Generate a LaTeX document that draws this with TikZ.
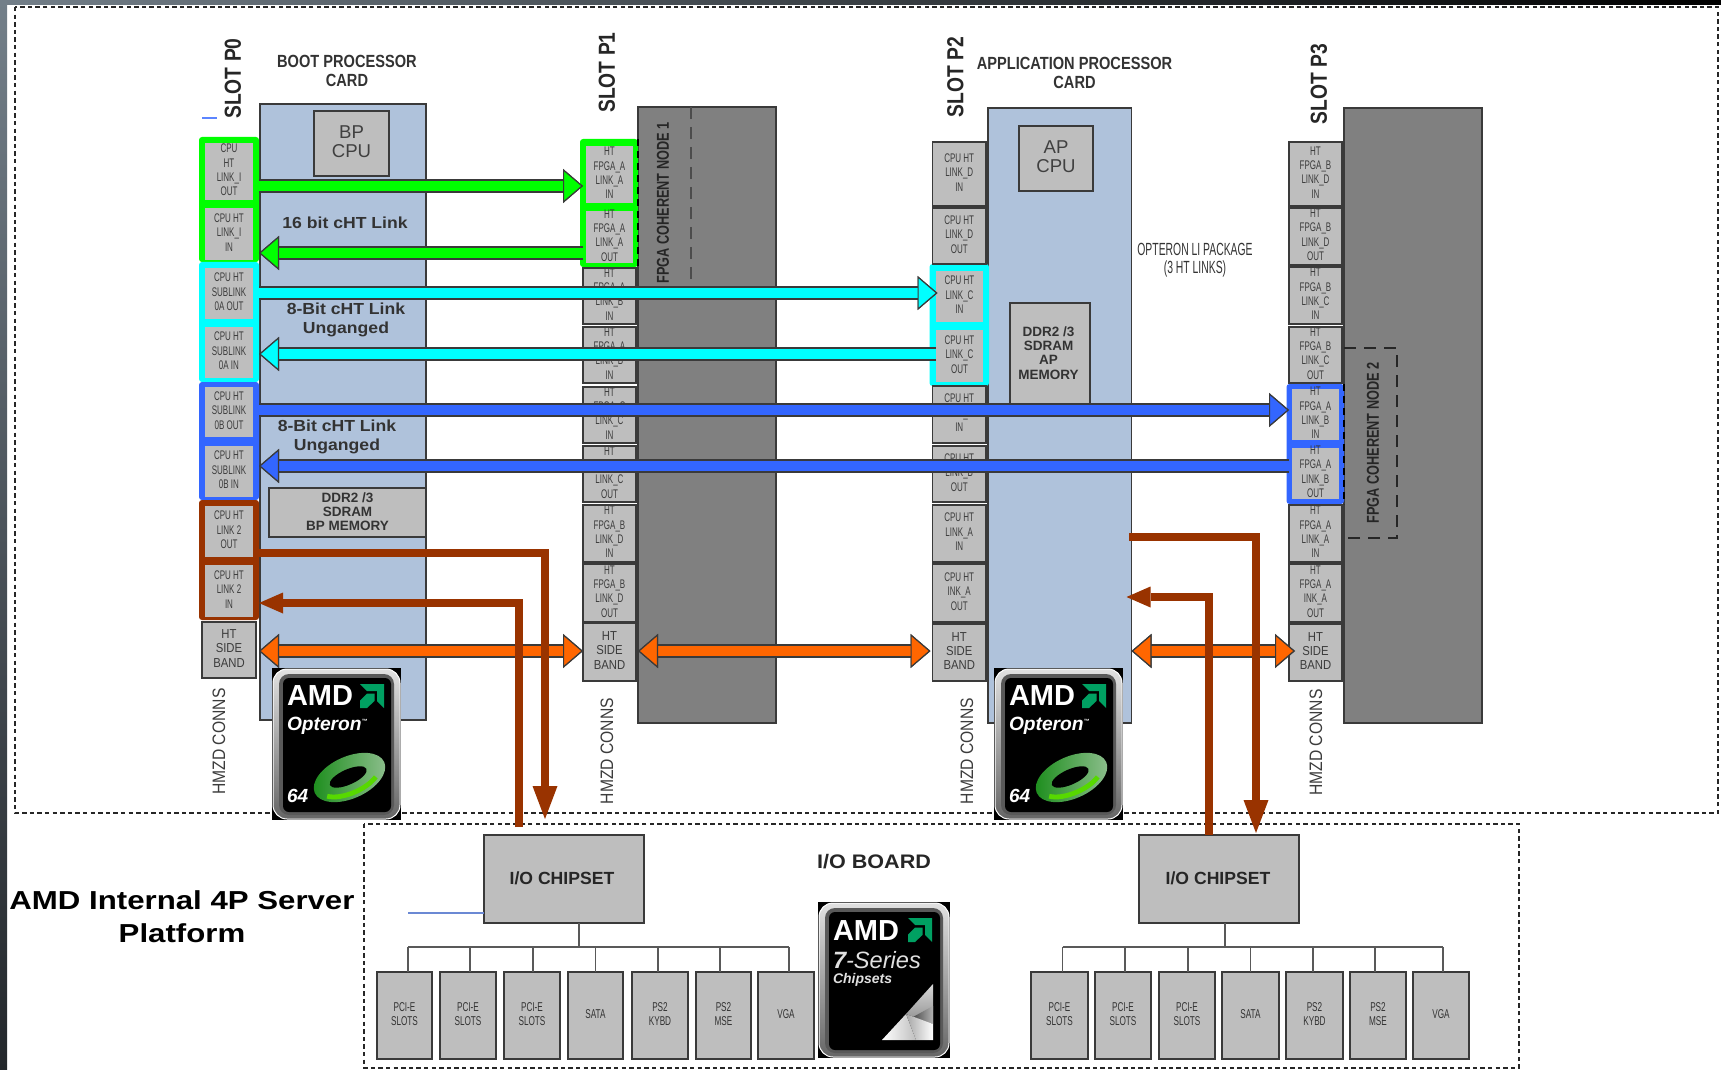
\documentclass[tikz,border=0pt]{standalone}
\usepackage{fontspec}
\usetikzlibrary{arrows.meta,calc}
\setmainfont{Liberation Sans}
\newfontfamily\fsq[FakeStretch=.64]{Liberation Sans}
\newfontfamily\fop[FakeStretch=.59]{Liberation Sans}
\newfontfamily\freg[FakeStretch=.87]{Liberation Sans}
\newfontfamily\fbe[FakeStretch=.74]{Liberation Sans}
\newfontfamily\fbs[FakeStretch=.83]{Liberation Sans}
\newfontfamily\fwa[FakeStretch=1.1]{Liberation Sans}
\newfontfamily\fwb[FakeStretch=1.2]{Liberation Sans}
\newcommand\sz[2]{\fontsize{#1pt}{#2pt}\selectfont}
\definecolor{cardblue}{HTML}{AFC2DB}
\definecolor{boxgray}{HTML}{BEBEBE}
\definecolor{fpgagray}{HTML}{808080}
\definecolor{edge}{HTML}{3A3A3A}
\definecolor{txtgray}{HTML}{3C3C3C}
\definecolor{lgreen}{HTML}{00FF00}
\definecolor{lcyan}{HTML}{00FFFF}
\definecolor{lblue}{HTML}{3366FF}
\definecolor{lbrown}{HTML}{993300}
\definecolor{lorange}{HTML}{FF6600}
\definecolor{amdgreen}{HTML}{00A062}
\definecolor{stripa}{HTML}{737F89}
\definecolor{stripb}{HTML}{23272B}
\tikzset{
  sbox/.style={rectangle,fill=boxgray,draw=edge,line width=.75pt,inner sep=0pt,outer sep=0pt},
  nobd/.style={draw=none},
  ring/.style={fill=#1,draw=none,rounded corners=1.5pt},
  tinyt/.style={inner sep=0pt,outer sep=0pt,align=center,text=txtgray,yshift=.8pt,font={\fsq\sz{6.25}{7.15}}},
  bandt/.style={inner sep=0pt,outer sep=0pt,align=center,text=txtgray,yshift=.8pt,font={\freg\sz{6.5}{7.15}}},
  slotlbl/.style={inner sep=0pt,outer sep=0pt,rotate=90,text=black!85,font={\fbs\bfseries\sz{11.6}{12}}},
  hmzd/.style={inner sep=0pt,outer sep=0pt,rotate=90,text=txtgray,font={\freg\sz{9}{9}}},
  head/.style={inner sep=0pt,outer sep=0pt,align=center,text=black!80,font={\fbs\bfseries\sz{8.8}{9.4}}},
  fpgat/.style={inner sep=0pt,outer sep=0pt,rotate=90,text=black!85,font={\fbe\bfseries\sz{8.6}{9}}},
  linkt/.style={inner sep=0pt,outer sep=0pt,align=center,text=black!80,font={\fwa\bfseries\sz{8}{9.5}}},
  memt/.style={inner sep=0pt,outer sep=0pt,align=center,text=black!80,yshift=.5pt,font={\bfseries\sz{6.75}{7.1}}},
  cput/.style={inner sep=0pt,outer sep=0pt,align=center,text=black!75,yshift=.8pt,font={\sz{9.3}{9.4}}},
  fat/.style={line width=5pt,draw=#1,preaction={draw=edge,line width=6.6pt},
     -{Triangle[length=10pt,width=17pt,fill=#1,color=edge,line width=.6pt]}},
  fatd/.style={line width=5.2pt,draw=#1,preaction={draw=edge,line width=6.8pt},
     {Triangle[length=10pt,width=17pt,fill=#1,color=edge,line width=.6pt]}-{Triangle[length=10pt,width=17pt,fill=#1,color=edge,line width=.6pt]}},
  brn/.style={line width=4pt,draw=lbrown,-{Triangle[length=16.5pt,width=12.5pt,fill=lbrown,color=lbrown,line width=0pt]}},
  brs/.style={line width=4pt,draw=lbrown,-{Triangle[length=12pt,width=10.5pt,fill=lbrown,color=lbrown,line width=0pt]}},
  outerd/.style={draw=black!85,line width=1.2pt,dash pattern=on 2.2pt off 1.6pt},
  nodedash/.style={draw=black!70,line width=1pt,dash pattern=on 6pt off 4pt},
  busline/.style={draw=black!65,line width=.85pt},
  logot/.style={inner sep=0pt,outer sep=0pt,text=white,anchor=base west}
}
% [style]{name}{x1}{y1}{x2}{y2}
\newcommand\bx[6][]{\node[sbox,minimum width={(#5-#3)*0.5pt},minimum height={(#6-#4)*0.5pt},#1] (#2) at ({(#3+#5)/2},{(#4+#6)/2}) {};}
% box with small text
\newcommand\tb[7][]{\bx[#1]{#2}{#3}{#4}{#5}{#6}\node[tinyt] (#2-t) at (#2) {#7};}
% side band box
\newcommand\sbd[6][]{\bx[#1]{#2}{#3}{#4}{#5}{#6}\node[bandt] (#2-t) at (#2) {HT\\SIDE\\BAND};}
% AMD arrow mark, relative coordinates
\newcommand\amdmark[2]{%
  \begin{scope}[shift={(#1,#2)}]
    \fill[amdgreen] (0,0) -- (24,0) -- (24,24) -- (17,17) -- (17,7) -- (7,7) -- cycle;
    \fill[amdgreen] (7,9.5) -- (14.5,9.5) -- (14.5,17) -- (7,24) -- (0,24) -- (0,16.5) -- cycle;
  \end{scope}}
\newcommand\logoframe[2]{%
  \fill[black] (0,0) rectangle (#1,#2);
  \shade[top color=black!12,bottom color=black!60,draw=white,line width=.5pt,rounded corners=7pt] (1,1) rectangle ({#1-1},{#2-1});
  \fill[black!65,rounded corners=5pt] (7,6) rectangle ({#1-7},{#2-5});
  \fill[black,rounded corners=3pt] (11,10) rectangle ({#1-10},{#2-8});}
\newcommand\logoO[3]{%
  \begin{scope}[shift={(#2,#3)}]
    \logoframe{129}{152}
    \node[logot,font={\fontsize{14.5pt}{15pt}\selectfont\bfseries}] (#1-a) at (15,37) {AMD};
    \amdmark{88}{16}
    \node[logot,font={\sz{9.6}{10}\bfseries\itshape}] (#1-o) at (15,62) {Opteron\raisebox{3.5pt}{\sz{3}{3}™}};
    \begin{scope}[shift={(77.5,109.5)},rotate=24]
      \shade[left color=green!50!black!90,right color=green!25!white!75!black] (0,0) ellipse [x radius=19pt,y radius=10.5pt];
      \draw[line width=2.4pt,draw=green!60!yellow!85!black] (-14pt,-4pt) arc [start angle=210,end angle=320,x radius=16pt,y radius=7.5pt];
      \fill[black] (-.5pt,.5pt) ellipse [x radius=10pt,y radius=3.8pt];
    \end{scope}
    \node[logot,font={\sz{9.5}{10}\bfseries\itshape}] (#1-n) at (15,134) {64};
  \end{scope}}
\newcommand\logoC[3]{%
  \begin{scope}[shift={(#2,#3)}]
    \logoframe{132}{156}
    \node[logot,font={\fontsize{14.5pt}{15pt}\selectfont\bfseries}] (#1-a) at (15,38) {AMD};
    \amdmark{90}{16}
    \node[logot,text=black!12,font={\sz{11.8}{12}\itshape}] (#1-s) at (15,66) {\textbf{7}-Series};
    \node[logot,text=black!12,font={\sz{7}{7}\bfseries\itshape}] (#1-c) at (15,81) {Chipsets};
    \shade[top color=black!15,bottom color=black!45] (115,82) -- (88,112) -- (115,122) -- cycle;
    \shade[left color=black!70,right color=black!30] (115,104) -- (95,115) -- (115,122) -- cycle;
    \shade[left color=white,right color=black!25] (64,138) -- (88,112) -- (98,138) -- cycle;
    \shade[left color=black!35,right color=white] (88,112) -- (115,122) -- (115,138) -- (98,138) -- cycle;
  \end{scope}}
\begin{document}
\begin{tikzpicture}[x=0.5pt,y=-0.5pt]
\useasboundingbox (0,0) rectangle (1721,1070);
\fill[white] (0,0) rectangle (1721,1070);
\shade[top color=stripa,bottom color=stripb] (0,0) rectangle (7,1070);
\shade[left color=stripa,right color=black] (0,0) rectangle (1721,5);
% frames
\coordinate (o1) at (15,7); \coordinate (o2) at (1718,813);
\draw[outerd] (o1) rectangle (o2);
\coordinate (io1) at (364,824); \coordinate (io2) at (1519,1068);
\draw[outerd] (io1) rectangle (io2);
% cards and FPGA blocks
\bx[fill=cardblue]{bpc}{260}{104}{426}{720}
\bx[fill=fpgagray]{fp1}{638}{107}{776}{723}
\bx[fill=cardblue]{apc}{988}{108}{1131.5}{723}
\bx[fill=fpgagray]{fp3}{1344}{108}{1482}{723}
\bx{bpcpu}{314}{111}{389}{176}
\node[cput] (bpcpu-t) at (bpcpu) {BP\\CPU};
\bx{apcpu}{1019}{126}{1093}{191}
\node[cput] (apcpu-t) at (apcpu) {AP\\CPU};
\bx{bpmem}{269}{488}{426}{537}
\node[memt] (bpmem-t) at (bpmem) {DDR2 /3\\SDRAM\\BP MEMORY};
\bx{apmem}{1010}{303}{1090}{405}
\node[memt] (apmem-t) at (1048.5,354) {DDR2 /3\\SDRAM\\AP\\MEMORY};
% dashed FPGA node outlines
\coordinate (d1) at (691,285);
\draw[nodedash] (fp1.north -| d1) -- (d1);
\coordinate (d3a) at (1397,348); \coordinate (d3b) at (1397,538);
\draw[nodedash,draw=black!85] (fp3.west |- d3a) -- (d3a) -- (d3b) -- (fp3.west |- d3b);
\node[fpgat] (fpl1) at (663,203) {FPGA COHERENT NODE 1};
\node[fpgat] (fpl2) at (1373,443) {FPGA COHERENT NODE 2};
% coloured groups
\bx[ring=lgreen]{gp0}{199}{137}{259}{262}
\bx[ring=lcyan]{cp0}{199}{262}{259}{382}
\bx[ring=lblue]{bp0}{199}{382}{259}{500}
\bx[ring=lbrown]{rp0}{199}{500}{259}{620}
\bx[ring=lgreen]{gp1}{580}{139}{638}{267}
\bx[ring=lcyan]{cp2}{929.5}{264}{989}{386}
\bx[ring=lblue]{bp3}{1286.5}{384}{1344}{504}
% slot P0
\tb[nobd]{p0a}{205}{143}{253}{200}{CPU\\HT\\LINK\_I\\OUT}
\tb[nobd]{p0b}{205}{208}{253}{260}{CPU HT\\LINK\_I\\IN}
\tb[nobd]{p0c}{205}{268}{253}{319}{CPU HT\\SUBLINK\\0A OUT}
\tb[nobd]{p0d}{205}{327}{253}{378}{CPU HT\\SUBLINK\\0A IN}
\tb[nobd]{p0e}{205}{387}{253}{437}{CPU HT\\SUBLINK\\0B OUT}
\tb[nobd]{p0f}{205}{446}{253}{497}{CPU HT\\SUBLINK\\0B IN}
\tb[nobd]{p0g}{205}{506}{253}{557}{CPU HT\\LINK 2\\OUT}
\tb[nobd]{p0h}{205}{565}{253}{617}{CPU HT\\LINK 2\\IN}
\sbd{p0s}{202}{622}{256}{678}
% slot P1
\tb[nobd]{p1a}{586}{146}{633}{203}{HT\\FPGA\_A\\LINK\_A\\IN}
\tb[nobd]{p1b}{586}{211}{633}{263}{HT\\FPGA\_A\\LINK\_A\\OUT}
\tb{p1c}{583}{268}{636}{324}{HT\\FPGA\_A\\LINK\_B\\IN}
\tb{p1d}{583}{327}{636}{383}{HT\\FPGA\_A\\LINK\_B\\IN}
\tb{p1e}{583}{387}{636}{443}{HT\\FPGA\_C\\LINK\_C\\IN}
\tb{p1f}{583}{446}{636}{502}{HT\\FPGA\_C\\LINK\_C\\OUT}
\tb{p1g}{583}{505}{636}{562}{HT\\FPGA\_B\\LINK\_D\\IN}
\tb{p1h}{583}{564}{636}{622}{HT\\FPGA\_B\\LINK\_D\\OUT}
\sbd{p1s}{583}{623}{636}{681}
% slot P2
\tb{p2a}{932.5}{142}{986}{206}{CPU HT\\LINK\_D\\IN}
\tb{p2b}{932.5}{208}{986}{264}{CPU HT\\LINK\_D\\OUT}
\tb[nobd]{p2c}{936}{271}{983}{322}{CPU HT\\LINK\_C\\IN}
\tb[nobd]{p2d}{936}{330}{983}{382}{CPU HT\\LINK\_C\\OUT}
\tb{p2e}{932.5}{386}{986}{443}{CPU HT\\LINK\_B\\IN}
\tb{p2f}{932.5}{446}{986}{502}{CPU HT\\LINK\_B\\OUT}
\tb{p2g}{932.5}{505}{986}{562}{CPU HT\\LINK\_A\\IN}
\tb{p2h}{932.5}{564}{986}{622}{CPU HT\\INK\_A\\OUT}
\sbd{p2s}{932.5}{624}{986}{681}
% slot P3
\tb{p3a}{1289}{142}{1342}{206}{HT\\FPGA\_B\\LINK\_D\\IN}
\tb{p3b}{1289}{208}{1342}{265}{HT\\FPGA\_B\\LINK\_D\\OUT}
\tb{p3c}{1289}{267}{1342}{324}{HT\\FPGA\_B\\LINK\_C\\IN}
\tb{p3d}{1289}{327}{1342}{383}{HT\\FPGA\_B\\LINK\_C\\OUT}
\tb[nobd]{p3e}{1292}{389}{1339}{440}{HT\\FPGA\_A\\LINK\_B\\IN}
\tb[nobd]{p3f}{1292}{448}{1339}{499}{HT\\FPGA\_A\\LINK\_B\\OUT}
\tb{p3g}{1289}{505}{1342}{562}{HT\\FPGA\_A\\LINK\_A\\IN}
\tb{p3h}{1289}{564}{1342}{622}{HT\\FPGA\_A\\INK\_A\\OUT}
\sbd{p3s}{1289}{624}{1342}{681}
\draw[nodedash,draw=black,dash pattern=on 3.5pt off 2.5pt] (gp1.north east) -- (gp1.south east);
\draw[nodedash,draw=black,dash pattern=on 3.5pt off 2.5pt] (bp3.north east) -- (bp3.south east);
% labels
\node[slotlbl] (sl0) at (233,78.5) {SLOT P0};
\node[slotlbl] (sl1) at (607,72.5) {SLOT P1};
\node[slotlbl] (sl2) at (955.5,77) {SLOT P2};
\node[slotlbl] (sl3) at (1319,84) {SLOT P3};
\node[hmzd] (hm0) at (219,741.5) {HMZD CONNS};
\node[hmzd] (hm1) at (607,751) {HMZD CONNS};
\node[hmzd] (hm2) at (967,751) {HMZD CONNS};
\node[hmzd] (hm3) at (1316,742.5) {HMZD CONNS};
\node[head] (hd1) at (347,71) {BOOT PROCESSOR\\CARD};
\node[head] (hd2) at (1074.5,73) {APPLICATION PROCESSOR\\CARD};
\node[inner sep=0pt,align=center,text=black!80,font={\fop\sz{8.8}{9.2}}] (pkg) at (1195,260) {OPTERON LI PACKAGE\\(3 HT LINKS)};
\node[linkt] (lk1) at (345,223) {16 bit cHT Link};
\node[linkt] (lk2) at (346,319.5) {8-Bit cHT Link\\Unganged};
\node[linkt] (lk3) at (337,436.5) {8-Bit cHT Link\\Unganged};
% small blue marks
\coordinate (m1) at (202,118); \coordinate (m2) at (217,118);
\draw[lblue!80,line width=.6pt] (m1) -- (m2);
% link arrows
\coordinate (yg1) at (0,186); \coordinate (yg2) at (0,253);
\coordinate (yc1) at (0,293); \coordinate (yc2) at (0,354);
\coordinate (yb1) at (0,410); \coordinate (yb2) at (0,466);
\coordinate (yo) at (0,651);
\draw[fat=lgreen] (gp0.east |- yg1) -- (p1c.west |- yg1);
\draw[fat=lgreen] (p1c.west |- yg2) -- (gp0.east |- yg2);
\draw[fat=lcyan] (cp0.east |- yc1) -- ([xshift=.75pt]p2c.west |- yc1);
\draw[fat=lcyan] (p2d.west |- yc2) -- (cp0.east |- yc2);
\draw[fat=lblue] (bp0.east |- yb1) -- (p3a.west |- yb1);
\draw[fat=lblue] (p3a.west |- yb2) -- (bp0.east |- yb2);
\draw[fatd=lorange] ([xshift=1.5pt]p0s.east |- yo) -- (p1s.west |- yo);
\draw[fatd=lorange] (fp1.west |- yo) -- ([xshift=-1pt]p2s.west |- yo);
\draw[fatd=lorange] (apc.east |- yo) -- ([xshift=3pt]p3s.west |- yo);
% chipsets
\bx{chip1}{484}{835}{644}{923}
\node[inner sep=0pt,text=black!85,font={\bfseries\sz{8.8}{9}}] (chip1-t) at (562,878) {I/O CHIPSET};
\bx{chip2}{1139}{835}{1299}{923}
\node[inner sep=0pt,text=black!85,font={\bfseries\sz{8.8}{9}}] (chip2-t) at (1218,878) {I/O CHIPSET};
\node[inner sep=0pt,text=black!85,font={\fwa\bfseries\sz{9.8}{10}}] (iob) at (874,862) {I/O BOARD};
\node[inner sep=0pt,align=center,text=black,font={\fwb\bfseries\sz{13}{16.5}}] (title) at (182,917) {AMD Internal 4P Server\\Platform};
\coordinate (bl) at (408,913);
\draw[lblue!45!cardblue!90!black,line width=.9pt] (bl) -- (chip1.west |- bl);
% brown links
\coordinate (b1) at (0,553); \coordinate (b2) at (545,819);
\coordinate (b3) at (519,827); \coordinate (b4) at (0,603);
\coordinate (r1) at (0,537); \coordinate (r2) at (1256,833);
\coordinate (r3) at (1209,597);
\draw[brn] (rp0.east |- b1) -| (b2);
\draw[brs] (b3) |- (rp0.east |- b4);
\draw[brn] ([xshift=-1.2pt]apc.east |- r1) -| (r2);
\draw[brs] (chip2.north -| r3) |- ([xshift=-2.5pt]apc.east |- r3);
% peripheral boxes: name, x1, x2, text, bus, drop offset
\newcommand\pb[6]{\bx{#1}{#2}{972}{#3}{1059}\node[tinyt,text=black!80,font={\fsq\sz{6.4}{7.15}}] (#1-t) at (#1) {#4};\coordinate (#1-d) at ([xshift=#6]#1.north);\draw[busline] (#1-d) -- (#1-d |- #5);}
\coordinate (bus1) at (579,947);
\pb{a1}{377}{432}{PCI-E\\SLOTS}{bus1}{1.75pt}
\pb{a2}{440}{496}{PCI-E\\SLOTS}{bus1}{1pt}
\pb{a3}{504}{560}{PCI-E\\SLOTS}{bus1}{.5pt}
\pb{a4}{568}{623}{SATA}{bus1}{0pt}
\pb{a5}{632}{688}{PS2\\KYBD}{bus1}{-1pt}
\pb{a6}{696}{751}{PS2\\MSE}{bus1}{-1.75pt}
\pb{a7}{758}{814}{VGA}{bus1}{1.5pt}
\draw[busline] (chip1.south -| bus1) -- (bus1);
\draw[busline] (a1-d |- bus1) -- (a7-d |- bus1);
\coordinate (bus2) at (1225,947);
\pb{c1}{1031}{1088}{PCI-E\\SLOTS}{bus2}{1.5pt}
\pb{c2}{1095}{1151}{PCI-E\\SLOTS}{bus2}{1pt}
\pb{c3}{1159}{1215}{PCI-E\\SLOTS}{bus2}{.5pt}
\pb{c4}{1222}{1279}{SATA}{bus2}{0pt}
\pb{c5}{1286}{1343}{PS2\\KYBD}{bus2}{-.75pt}
\pb{c6}{1350}{1406}{PS2\\MSE}{bus2}{-1.5pt}
\pb{c7}{1413}{1469}{VGA}{bus2}{1pt}
\draw[busline] (chip2.south -| bus2) -- (bus2);
\draw[busline] (c1-d |- bus2) -- (c7-d |- bus2);
% logos
\logoO{la}{272}{668}
\logoO{lb}{994}{668}
\logoC{lc}{818}{902}
\end{tikzpicture}
\end{document}
